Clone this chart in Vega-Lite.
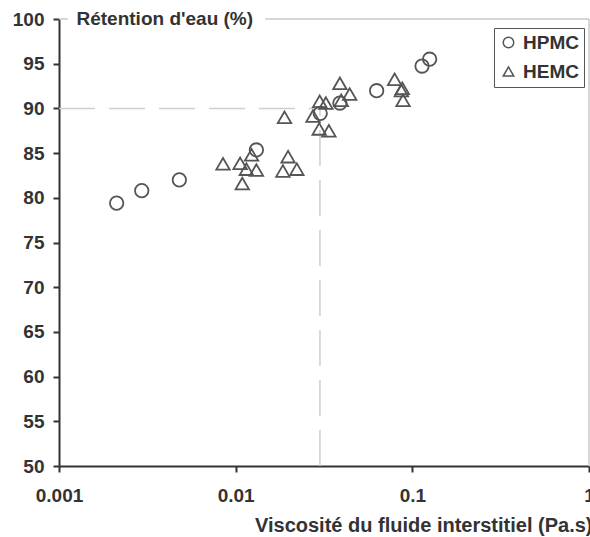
{
  "$schema": "https://vega.github.io/schema/vega-lite/v6.json",
  "width": 530,
  "height": 447,
  "autosize": {"type": "none"},
  "padding": {"left": 59, "top": 19, "right": 1, "bottom": 71},
  "background": "white",
  "config": {
    "view": {"stroke": null},
    "font": "Liberation Sans"
  },
  "datasets": {
    "points": [
      {"series": "HPMC", "viscosity": 0.00212, "retention": 79.4},
      {"series": "HPMC", "viscosity": 0.00294, "retention": 80.8},
      {"series": "HPMC", "viscosity": 0.0048, "retention": 82.0},
      {"series": "HPMC", "viscosity": 0.0131, "retention": 85.35},
      {"series": "HPMC", "viscosity": 0.0301, "retention": 89.45},
      {"series": "HPMC", "viscosity": 0.0389, "retention": 90.6},
      {"series": "HPMC", "viscosity": 0.0628, "retention": 91.98},
      {"series": "HPMC", "viscosity": 0.1135, "retention": 94.74},
      {"series": "HPMC", "viscosity": 0.1253, "retention": 95.5},
      {"series": "HEMC", "viscosity": 0.00848, "retention": 83.8},
      {"series": "HEMC", "viscosity": 0.0106, "retention": 83.86},
      {"series": "HEMC", "viscosity": 0.0115, "retention": 83.2},
      {"series": "HEMC", "viscosity": 0.0123, "retention": 84.8},
      {"series": "HEMC", "viscosity": 0.0131, "retention": 83.1},
      {"series": "HEMC", "viscosity": 0.0109, "retention": 81.6},
      {"series": "HEMC", "viscosity": 0.0198, "retention": 84.6},
      {"series": "HEMC", "viscosity": 0.0185, "retention": 83.0},
      {"series": "HEMC", "viscosity": 0.0222, "retention": 83.2},
      {"series": "HEMC", "viscosity": 0.0189, "retention": 89.0},
      {"series": "HEMC", "viscosity": 0.0274, "retention": 89.15},
      {"series": "HEMC", "viscosity": 0.0299, "retention": 90.8},
      {"series": "HEMC", "viscosity": 0.0324, "retention": 90.6},
      {"series": "HEMC", "viscosity": 0.0297, "retention": 87.7},
      {"series": "HEMC", "viscosity": 0.0337, "retention": 87.5},
      {"series": "HEMC", "viscosity": 0.0389, "retention": 92.8},
      {"series": "HEMC", "viscosity": 0.0442, "retention": 91.6},
      {"series": "HEMC", "viscosity": 0.0396, "retention": 90.9},
      {"series": "HEMC", "viscosity": 0.0794, "retention": 93.25},
      {"series": "HEMC", "viscosity": 0.0878, "retention": 92.25},
      {"series": "HEMC", "viscosity": 0.0867, "retention": 92.0},
      {"series": "HEMC", "viscosity": 0.0886, "retention": 90.9}
    ],
    "frameTop": [
      {"viscosity": 0.001, "viscosity_end": 0.00112, "retention": 100},
      {"viscosity": 0.0147, "viscosity_end": 1, "retention": 100}
    ],
    "frameRight": [
      {"viscosity": 1, "retention": 50, "retention_end": 100}
    ],
    "refH": [
      {"viscosity": 0.001, "viscosity_end": 0.03, "retention": 90}
    ],
    "refV": [
      {"viscosity": 0.03, "retention": 50, "retention_end": 90}
    ]
  },
  "encoding": {
    "x": {
      "field": "viscosity",
      "type": "quantitative",
      "scale": {"type": "log", "domain": [0.001, 1], "nice": false},
      "axis": {
        "values": [0.001, 0.01, 0.1, 1],
        "format": "~g",
        "title": "Viscosité du fluide interstitiel (Pa.s)",
        "grid": false,
        "domainColor": "#333333",
        "domainWidth": 2,
        "tickColor": "#333333",
        "tickWidth": 2,
        "tickSize": 6,
        "labelFontSize": 19,
        "labelFontWeight": "bold",
        "labelColor": "#333333",
        "labelPadding": 14,
        "labelFlush": false,
        "labelOverlap": false,
        "labelBound": false,
        "titleFontSize": 20,
        "titleFontWeight": "bold",
        "titleColor": "#333333",
        "titleAnchor": "end",
        "titleAlign": "right",
        "titleX": 533,
        "titleY": 65,
        "titleBaseline": "alphabetic"
      }
    },
    "y": {
      "field": "retention",
      "type": "quantitative",
      "scale": {"domain": [50, 100], "nice": false, "zero": false},
      "axis": {
        "values": [50, 55, 60, 65, 70, 75, 80, 85, 90, 95, 100],
        "title": "Rétention d'eau (%)",
        "grid": false,
        "domainColor": "#333333",
        "domainWidth": 2,
        "tickColor": "#333333",
        "tickWidth": 2,
        "tickSize": 6,
        "labelFontSize": 19,
        "labelFontWeight": "bold",
        "labelColor": "#333333",
        "labelPadding": 9,
        "labelOverlap": false,
        "labelBound": false,
        "labelFlush": false,
        "titleFontSize": 19,
        "titleFontWeight": "bold",
        "titleColor": "#333333",
        "titleAngle": 0,
        "titleAlign": "left",
        "titleBaseline": "middle",
        "titleX": 17,
        "titleY": -1
      }
    }
  },
  "layer": [
    {
      "data": {"name": "frameTop"},
      "mark": {"type": "rule", "color": "#c8c8c8", "strokeWidth": 1.5},
      "encoding": {"x2": {"field": "viscosity_end"}}
    },
    {
      "data": {"name": "frameRight"},
      "mark": {"type": "rule", "color": "#c8c8c8", "strokeWidth": 1.5},
      "encoding": {"y2": {"field": "retention_end"}}
    },
    {
      "data": {"name": "refH"},
      "mark": {"type": "rule", "color": "#cfcfcf", "strokeWidth": 1.5, "strokeDash": [36, 14]},
      "encoding": {"x2": {"field": "viscosity_end"}}
    },
    {
      "data": {"name": "refV"},
      "mark": {"type": "rule", "color": "#cfcfcf", "strokeWidth": 1.5, "strokeDash": [36, 14]},
      "encoding": {"y2": {"field": "retention_end"}}
    },
    {
      "data": {"name": "points"},
      "mark": {"type": "point", "filled": false, "color": "#555555", "strokeWidth": 1.8, "opacity": 1, "size": 180},
      "encoding": {
        "shape": {
          "field": "series",
          "type": "nominal",
          "scale": {"domain": ["HPMC", "HEMC"], "range": ["circle", "triangle-up"]},
          "legend": {
            "title": null,
            "orient": "none",
            "legendX": 435,
            "legendY": 9,
            "padding": 5,
            "strokeColor": "#555555",
            "fillColor": "white",
            "labelFontSize": 19,
            "labelFontWeight": "bold",
            "labelColor": "#333333",
            "labelOffset": 5,
            "symbolSize": 110,
            "symbolStrokeWidth": 1.5,
            "symbolStrokeColor": "#555555",
            "symbolFillColor": "transparent",
            "rowPadding": 9
          }
        }
      }
    }
  ]
}
